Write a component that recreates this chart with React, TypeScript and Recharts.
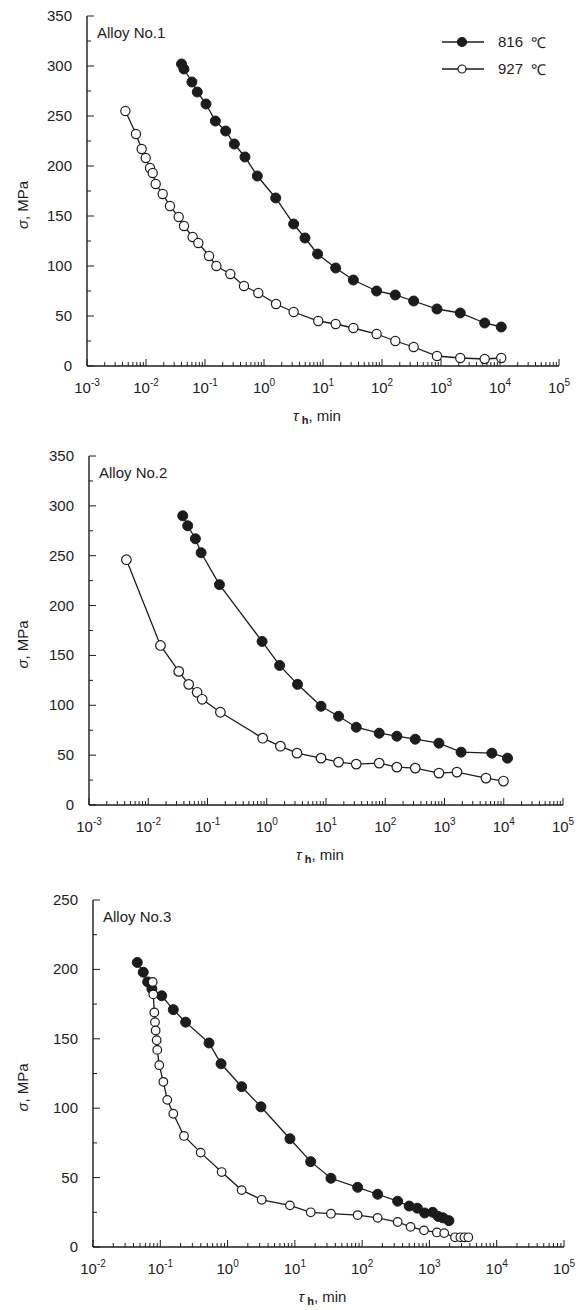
import React from "react";
import { LineChart, Line, XAxis, YAxis, Legend, Label } from "recharts";

// tick values
const decadesFrom3 = [1e-3, 1e-2, 1e-1, 1, 1e1, 1e2, 1e3, 1e4, 1e5];
const decadesFrom2 = [1e-2, 1e-1, 1, 1e1, 1e2, 1e3, 1e4, 1e5];
const stressTicks350 = [0, 50, 100, 150, 200, 250, 300, 350];
const stressTicks250 = [0, 50, 100, 150, 200, 250];

// Alloy No.1
const a1Time816 = [0.04, 0.044, 0.06, 0.074, 0.104, 0.15, 0.224, 0.314, 0.476, 0.77, 1.58, 3.18, 4.95, 8.1, 16.4, 32.7, 81, 168, 344, 855, 2120, 5500, 10500];
const a1Stress816 = [302, 297, 284, 274, 262, 245, 235, 222, 209, 190, 168, 142, 128, 112, 98, 86, 75, 71, 65, 57, 53, 43, 39];
const a1Time927 = [0.00447, 0.00676, 0.00845, 0.00989, 0.0117, 0.013, 0.0146, 0.0192, 0.0255, 0.0358, 0.0441, 0.0617, 0.0771, 0.117, 0.156, 0.269, 0.458, 0.8, 1.6, 3.18, 8.3, 16.4, 32.7, 81, 168, 344, 855, 2120, 5500, 10500];
const a1Stress927 = [255, 232, 217, 208, 198, 193, 182, 172, 160, 149, 140, 129, 123, 110, 100, 92, 80, 73, 62, 54, 45, 42, 38, 32, 25, 19, 10, 8, 7, 8];

// Alloy No.2
const a2Time816 = [0.0382, 0.0463, 0.0625, 0.078, 0.159, 0.834, 1.65, 3.31, 8.24, 16.3, 32.4, 79, 157, 321, 805, 1905, 6310, 11560];
const a2Stress816 = [290, 280, 267, 253, 221, 164, 140, 121, 99, 89, 78, 72, 69, 66, 62, 53, 52, 47];
const a2Time927 = [0.00428, 0.0161, 0.0327, 0.0482, 0.0668, 0.0813, 0.165, 0.853, 1.7, 3.24, 8.24, 16.3, 32.4, 79, 157, 321, 805, 1620, 5010, 9890];
const a2Stress927 = [246, 160, 134, 121, 113, 106, 93, 67, 59, 52, 47, 43, 41, 42, 38, 37, 32, 33, 27, 24];

// Alloy No.3
const a3Time816 = [0.0455, 0.0558, 0.0649, 0.075, 0.105, 0.156, 0.238, 0.53, 0.8, 1.62, 3.13, 8.45, 17.2, 34.4, 85.7, 170, 337, 500, 660, 850, 1120, 1350, 1590, 1950];
const a3Stress816 = [205, 198, 191, 186, 181, 171, 162, 147, 132, 115.5, 101, 78, 61.5, 49.5, 43, 38, 33, 29.5, 28, 24.5, 25, 22, 21, 19];
const a3Time927 = [0.0771, 0.0787, 0.0815, 0.0834, 0.0853, 0.0883, 0.0902, 0.0966, 0.111, 0.127, 0.156, 0.225, 0.398, 0.817, 1.62, 3.21, 8.45, 17.2, 34.4, 85.7, 170, 337, 525, 830, 1290, 1660, 2400, 2880, 3310, 3780];
const a3Stress927 = [191, 182, 169, 162, 156, 149, 142, 131, 119, 106, 96, 80, 68, 54, 41, 34, 30, 25, 24, 23, 21, 18, 14.5, 12, 10.5, 10, 7, 7, 7, 7];

const INK = "#1c1c1c";
const FONT = "'Liberation Sans', Arial, sans-serif";
const SERIES_816 = "816 ℃";
const SERIES_927 = "927 ℃";

const zip = (xs: number[], ys: number[]) => xs.map((x, i) => ({ x, y: ys[i] }));

const withMinor = (decades: number[]) =>
  decades.flatMap((d, i) =>
    i === decades.length - 1 ? [d] : [1, 2, 3, 4, 5, 6, 7, 8, 9].map((m) => d * m)
  );

const withHalves = (majors: number[]) =>
  majors.flatMap((v, i) => (i === majors.length - 1 ? [v] : [v, v + (majors[1] - majors[0]) / 2]));

const isDecade = (v: number) => {
  const e = Math.log10(v);
  return Math.abs(e - Math.round(e)) < 1e-6;
};

const XTick = (props: any) => {
  const { x, y, payload } = props;
  const v = payload.value as number;
  const major = isDecade(v);
  return (
    <g>
      <line x1={x} y1={y} x2={x} y2={y - (major ? 7 : 4)} stroke={INK} strokeWidth={1} />
      {major && (
        <text x={x} y={y + 27} textAnchor="middle" fill={INK} fontSize={15} fontFamily={FONT}>
          10
          <tspan dy={-7} fontSize={10}>
            {Math.round(Math.log10(v))}
          </tspan>
        </text>
      )}
    </g>
  );
};

const YTick = (props: any) => {
  const { x, y, payload } = props;
  const v = payload.value as number;
  const major = v % 50 === 0;
  return (
    <g>
      <line x1={x} y1={y} x2={x + (major ? 7 : 4)} y2={y} stroke={INK} strokeWidth={1} />
      {major && (
        <text x={x - 15} y={y + 5} textAnchor="end" fill={INK} fontSize={15} fontFamily={FONT}>
          {v}
        </text>
      )}
    </g>
  );
};

const xTitle = (props: any) => {
  const vb = props.viewBox;
  return (
    <text x={vb.x + vb.width / 2 - 6} y={vb.y + 55} textAnchor="middle" fill={INK} fontSize={15} fontFamily={FONT}>
      <tspan fontStyle="italic">τ</tspan>
      <tspan fontSize={11} fontWeight="bold" dx={3} dy={3}>h</tspan>
      <tspan dy={-3}>, min</tspan>
    </text>
  );
};

const yTitle = (props: any) => {
  const vb = props.viewBox;
  const cx = 22;
  const cy = vb.y + vb.height / 2 + 14;
  return (
    <text x={cx} y={cy} transform={`rotate(-90, ${cx}, ${cy})`} textAnchor="middle" dominantBaseline="central" fill={INK} fontSize={15} fontFamily={FONT}>
      <tspan fontStyle="italic">σ</tspan>, MPa
    </text>
  );
};

const filledDot = { r: 5, fill: INK, stroke: INK, strokeWidth: 1 };
const openDot = (r: number) => ({ r, fill: "#fff", stroke: INK, strokeWidth: 1.2 });

const LegendBox = (props: any) => (
  <div style={{ fontFamily: FONT, fontSize: 15, color: INK }}>
    {(props.payload || []).map((entry: any) => {
      const filled = entry.value === SERIES_816;
      return (
        <div key={entry.value} style={{ display: "flex", alignItems: "center", height: 27 }}>
          <svg width={44} height={12}>
            <line x1={0} y1={6} x2={42} y2={6} stroke={INK} strokeWidth={1.3} />
            <circle cx={20} cy={6} r={filled ? 4.5 : 4} fill={filled ? INK : "#fff"} stroke={INK} strokeWidth={1.2} />
          </svg>
          <span style={{ marginLeft: 12 }}>{entry.value.replace(" ℃", "")}</span>
          <span style={{ marginLeft: 8 }}>℃</span>
        </div>
      );
    })}
  </div>
);

type Panel = {
  title: string;
  top: number;
  height: number;
  plotLeft: number;
  plotRight: number;
  plotTop: number;
  plotBottom: number;
  decades: number[];
  stressTicks: number[];
  s816: { x: number; y: number }[];
  s927: { x: number; y: number }[];
  openR: number;
  legend?: boolean;
};

const WIDTH = 586;
const X_AXIS_H = 50;

const panels: Panel[] = [
  {
    title: "Alloy No.1", top: 0, height: 440, plotLeft: 87, plotRight: 559, plotTop: 16, plotBottom: 366,
    decades: decadesFrom3, stressTicks: stressTicks350,
    s816: zip(a1Time816, a1Stress816), s927: zip(a1Time927, a1Stress927), openR: 4.6, legend: true,
  },
  {
    title: "Alloy No.2", top: 440, height: 440, plotLeft: 89, plotRight: 563, plotTop: 456, plotBottom: 805,
    decades: decadesFrom3, stressTicks: stressTicks350,
    s816: zip(a2Time816, a2Stress816), s927: zip(a2Time927, a2Stress927), openR: 4.8,
  },
  {
    title: "Alloy No.3", top: 880, height: 430, plotLeft: 93, plotRight: 564, plotTop: 900, plotBottom: 1247,
    decades: decadesFrom2, stressTicks: stressTicks250,
    s816: zip(a3Time816, a3Stress816), s927: zip(a3Time927, a3Stress927), openR: 4.3,
  },
];

function AlloyChart({ p }: { p: Panel }) {
  const domainX: [number, number] = [p.decades[0], p.decades[p.decades.length - 1]];
  const domainY: [number, number] = [0, p.stressTicks[p.stressTicks.length - 1]];
  const marginTop = p.plotTop - p.top;
  const marginBottom = p.height - (p.plotBottom - p.top) - X_AXIS_H;
  return (
    <div style={{ position: "absolute", left: 0, top: p.top, width: WIDTH, height: p.height }}>
      <LineChart
        width={WIDTH}
        height={p.height}
        margin={{ top: marginTop, right: WIDTH - p.plotRight, bottom: marginBottom, left: 0 }}
      >
        <XAxis
          type="number"
          dataKey="x"
          scale="log"
          domain={domainX}
          allowDataOverflow
          ticks={withMinor(p.decades)}
          interval={0}
          tick={<XTick />}
          tickSize={0}
          tickMargin={0}
          tickLine={false}
          height={X_AXIS_H}
          axisLine={{ stroke: INK, strokeWidth: 1.4 }}
        >
          <Label content={xTitle} />
        </XAxis>
        <XAxis
          xAxisId="top"
          orientation="top"
          type="number"
          scale="log"
          domain={domainX}
          allowDataOverflow
          height={0}
          tick={false}
          tickLine={false}
          axisLine={{ stroke: INK, strokeWidth: 1.4 }}
        />
        <YAxis
          type="number"
          domain={domainY}
          allowDataOverflow
          ticks={withHalves(p.stressTicks)}
          interval={0}
          tick={<YTick />}
          tickSize={0}
          tickMargin={0}
          tickLine={false}
          width={p.plotLeft}
          axisLine={{ stroke: INK, strokeWidth: 1.4 }}
        >
          <Label content={yTitle} />
        </YAxis>
        <YAxis
          yAxisId="right"
          orientation="right"
          type="number"
          domain={domainY}
          width={0}
          tick={false}
          tickLine={false}
          axisLine={{ stroke: INK, strokeWidth: 1.4 }}
        />
        {p.legend && (
          <Legend
            layout="vertical"
            align="center"
            verticalAlign="middle"
            content={<LegendBox />}
            wrapperStyle={{ top: 28, left: 442, width: 140 }}
          />
        )}
        <Line
          data={p.s816}
          dataKey="y"
          name={SERIES_816}
          type="linear"
          stroke={INK}
          strokeWidth={1.3}
          dot={filledDot}
          activeDot={false}
          isAnimationActive={false}
        />
        <Line
          data={p.s927}
          dataKey="y"
          name={SERIES_927}
          type="linear"
          stroke={INK}
          strokeWidth={1.3}
          dot={openDot(p.openR)}
          activeDot={false}
          isAnimationActive={false}
        />
      </LineChart>
      <div
        style={{
          position: "absolute",
          left: p.plotLeft + 10,
          top: p.plotTop - p.top + 8,
          fontFamily: FONT,
          fontSize: 15,
          color: INK,
        }}
      >
        {p.title}
      </div>
    </div>
  );
}

export default function App() {
  return (
    <div style={{ position: "absolute", left: 0, top: 0, width: WIDTH, height: 1310, background: "#fff" }}>
      {panels.map((p) => (
        <AlloyChart key={p.title} p={p} />
      ))}
    </div>
  );
}
